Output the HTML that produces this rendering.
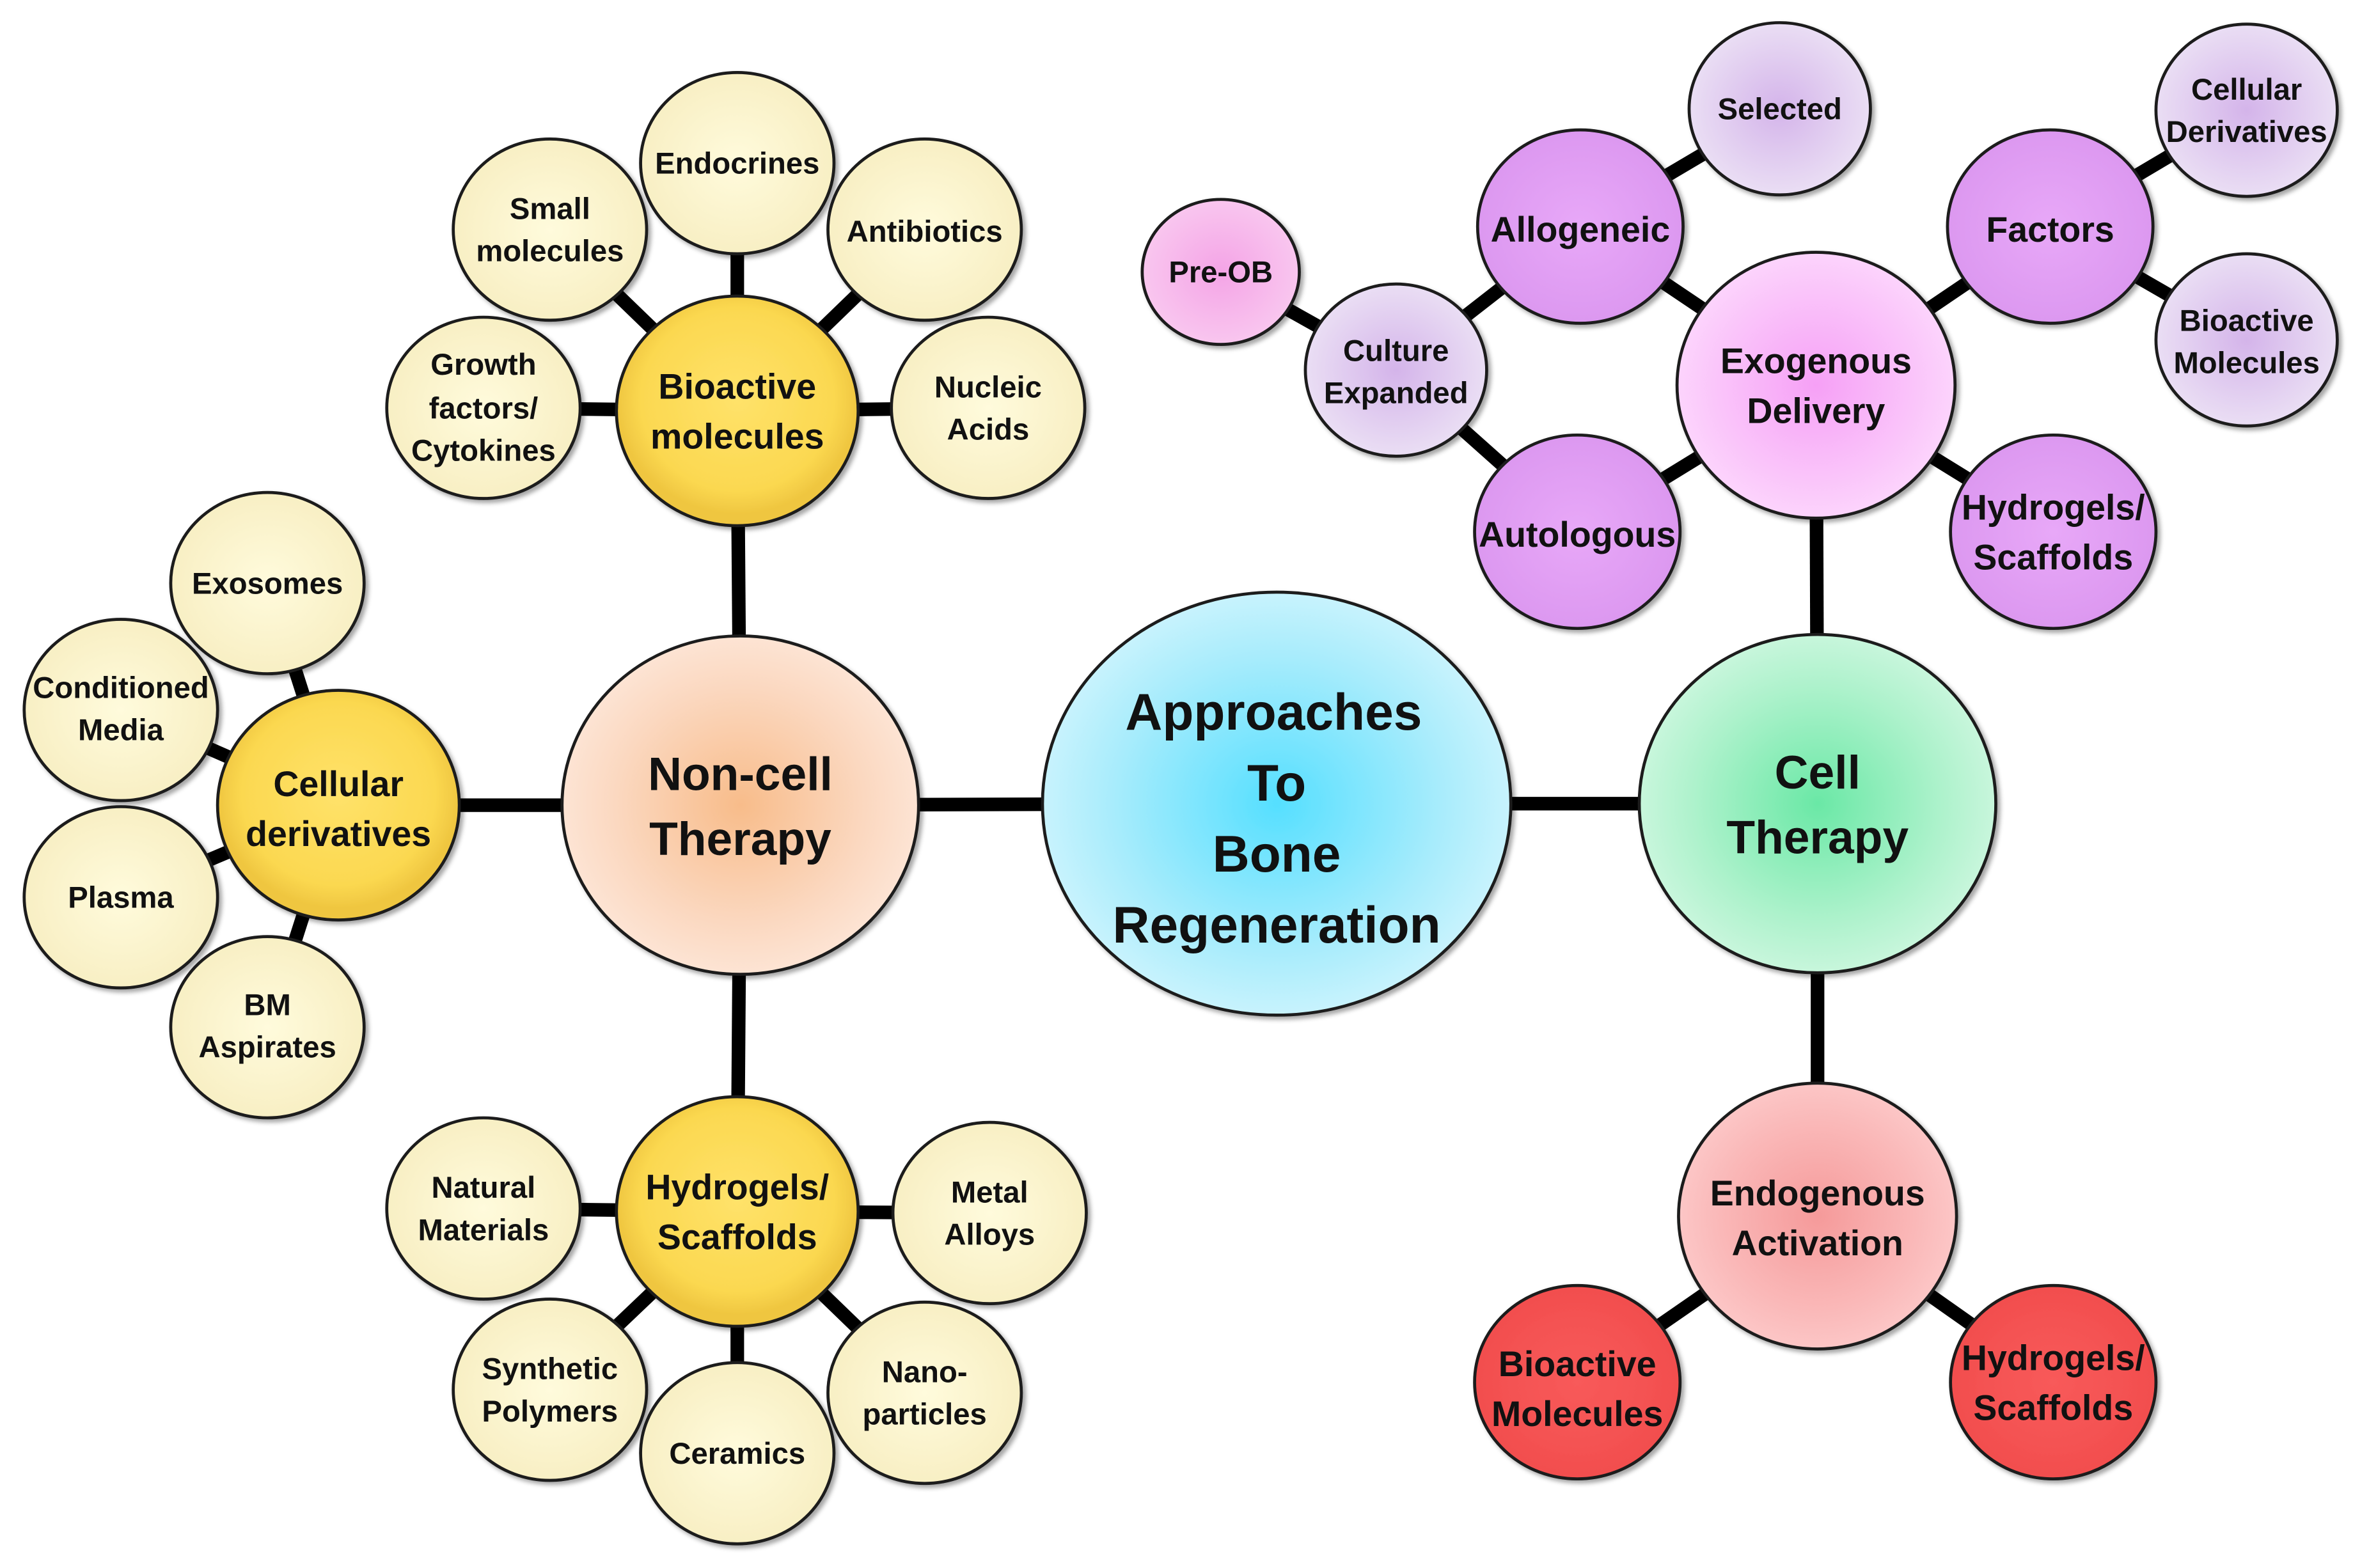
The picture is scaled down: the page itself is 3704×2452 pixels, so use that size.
<!DOCTYPE html>
<html><head><meta charset="utf-8"><style>
html,body{margin:0;padding:0;background:#fff;}
svg{display:block;}
text{font-family:"Liberation Sans",sans-serif;font-weight:bold;fill:#111;text-anchor:middle;}
</style></head><body>
<svg width="3704" height="2452" viewBox="0 0 1568 1038" preserveAspectRatio="none" xmlns="http://www.w3.org/2000/svg">
<defs>
<filter id="sh" x="-20%" y="-20%" width="140%" height="140%"><feDropShadow dx="2" dy="2" stdDeviation="1.5" flood-color="#000" flood-opacity="0.35"/></filter>
<radialGradient id="blue"><stop offset="0" stop-color="#55dfff"/><stop offset="0.7" stop-color="#a8ecfc"/><stop offset="1" stop-color="#c8f3fd"/></radialGradient>
<radialGradient id="peach"><stop offset="0" stop-color="#f8bc8a"/><stop offset="0.7" stop-color="#fbd8c0"/><stop offset="1" stop-color="#fde4d4"/></radialGradient>
<radialGradient id="green"><stop offset="0" stop-color="#6ae8a6"/><stop offset="0.7" stop-color="#aef2cc"/><stop offset="1" stop-color="#c8f6dc"/></radialGradient>
<radialGradient id="gold" cx="0.5" cy="0.45"><stop offset="0" stop-color="#ffe26a"/><stop offset="0.8" stop-color="#fbd850"/><stop offset="1" stop-color="#efc640"/></radialGradient>
<radialGradient id="cream"><stop offset="0" stop-color="#fffbdc"/><stop offset="1" stop-color="#f8efc4"/></radialGradient>
<radialGradient id="lpink"><stop offset="0" stop-color="#f6a0f6"/><stop offset="0.7" stop-color="#fac4fa"/><stop offset="1" stop-color="#fcd4fc"/></radialGradient>
<radialGradient id="purple"><stop offset="0" stop-color="#e8a8f8"/><stop offset="1" stop-color="#dc98f0"/></radialGradient>
<radialGradient id="lav"><stop offset="0" stop-color="#d4b4ea"/><stop offset="1" stop-color="#eadef4"/></radialGradient>
<radialGradient id="prepink"><stop offset="0" stop-color="#f4a4e6"/><stop offset="1" stop-color="#f9c6ef"/></radialGradient>
<radialGradient id="lred"><stop offset="0" stop-color="#f59a9a"/><stop offset="0.7" stop-color="#fab8b8"/><stop offset="1" stop-color="#fcc6c6"/></radialGradient>
<radialGradient id="red"><stop offset="0" stop-color="#f85a5a"/><stop offset="1" stop-color="#f24e4e"/></radialGradient>
</defs>
<g stroke="#000" stroke-width="9" fill="none">
<line x1="490" y1="533" x2="845" y2="532"/>
<line x1="845" y1="532" x2="1203" y2="532"/>
<line x1="490" y1="533" x2="488" y2="272"/>
<line x1="490" y1="533" x2="488" y2="802"/>
<line x1="490" y1="533" x2="224" y2="533"/>
<line x1="488" y1="272" x2="488" y2="108"/>
<line x1="488" y1="272" x2="364" y2="152"/>
<line x1="488" y1="272" x2="612" y2="152"/>
<line x1="488" y1="272" x2="320" y2="270"/>
<line x1="488" y1="272" x2="654" y2="270"/>
<line x1="224" y1="533" x2="177" y2="386"/>
<line x1="224" y1="533" x2="80" y2="470"/>
<line x1="224" y1="533" x2="80" y2="594"/>
<line x1="224" y1="533" x2="177" y2="680"/>
<line x1="488" y1="802" x2="320" y2="800"/>
<line x1="488" y1="802" x2="655" y2="803"/>
<line x1="488" y1="802" x2="364" y2="920"/>
<line x1="488" y1="802" x2="488" y2="962"/>
<line x1="488" y1="802" x2="612" y2="922"/>
<line x1="1203" y1="532" x2="1202" y2="255"/>
<line x1="1203" y1="532" x2="1203" y2="805"/>
<line x1="1202" y1="255" x2="1046" y2="150"/>
<line x1="1202" y1="255" x2="1044" y2="352"/>
<line x1="1202" y1="255" x2="1357" y2="150"/>
<line x1="1202" y1="255" x2="1359" y2="352"/>
<line x1="1046" y1="150" x2="924" y2="245"/>
<line x1="1044" y1="352" x2="924" y2="245"/>
<line x1="924" y1="245" x2="808" y2="180"/>
<line x1="1046" y1="150" x2="1178" y2="72"/>
<line x1="1357" y1="150" x2="1487" y2="73"/>
<line x1="1357" y1="150" x2="1487" y2="225"/>
<line x1="1203" y1="805" x2="1044" y2="915"/>
<line x1="1203" y1="805" x2="1359" y2="915"/>
</g>
<g stroke="#1a1a1a" stroke-width="2" filter="url(#sh)">
<ellipse cx="845" cy="532" rx="155" ry="140" fill="url(#blue)"/>
<ellipse cx="490" cy="533" rx="118" ry="112" fill="url(#peach)"/>
<ellipse cx="1203" cy="532" rx="118" ry="112" fill="url(#green)"/>
<ellipse cx="488" cy="272" rx="80" ry="76" fill="url(#gold)"/>
<ellipse cx="488" cy="802" rx="80" ry="76" fill="url(#gold)"/>
<ellipse cx="224" cy="533" rx="80" ry="76" fill="url(#gold)"/>
<ellipse cx="488" cy="108" rx="64" ry="60" fill="url(#cream)"/>
<ellipse cx="364" cy="152" rx="64" ry="60" fill="url(#cream)"/>
<ellipse cx="612" cy="152" rx="64" ry="60" fill="url(#cream)"/>
<ellipse cx="320" cy="270" rx="64" ry="60" fill="url(#cream)"/>
<ellipse cx="654" cy="270" rx="64" ry="60" fill="url(#cream)"/>
<ellipse cx="177" cy="386" rx="64" ry="60" fill="url(#cream)"/>
<ellipse cx="80" cy="470" rx="64" ry="60" fill="url(#cream)"/>
<ellipse cx="80" cy="594" rx="64" ry="60" fill="url(#cream)"/>
<ellipse cx="177" cy="680" rx="64" ry="60" fill="url(#cream)"/>
<ellipse cx="320" cy="800" rx="64" ry="60" fill="url(#cream)"/>
<ellipse cx="655" cy="803" rx="64" ry="60" fill="url(#cream)"/>
<ellipse cx="364" cy="920" rx="64" ry="60" fill="url(#cream)"/>
<ellipse cx="612" cy="922" rx="64" ry="60" fill="url(#cream)"/>
<ellipse cx="488" cy="962" rx="64" ry="60" fill="url(#cream)"/>
<ellipse cx="1202" cy="255" rx="92" ry="88" fill="url(#lpink)"/>
<ellipse cx="1046" cy="150" rx="68" ry="64" fill="url(#purple)"/>
<ellipse cx="1044" cy="352" rx="68" ry="64" fill="url(#purple)"/>
<ellipse cx="1357" cy="150" rx="68" ry="64" fill="url(#purple)"/>
<ellipse cx="1359" cy="352" rx="68" ry="64" fill="url(#purple)"/>
<ellipse cx="924" cy="245" rx="60" ry="57" fill="url(#lav)"/>
<ellipse cx="1178" cy="72" rx="60" ry="57" fill="url(#lav)"/>
<ellipse cx="1487" cy="73" rx="60" ry="57" fill="url(#lav)"/>
<ellipse cx="1487" cy="225" rx="60" ry="57" fill="url(#lav)"/>
<ellipse cx="808" cy="180" rx="52" ry="48" fill="url(#prepink)"/>
<ellipse cx="1203" cy="805" rx="92" ry="88" fill="url(#lred)"/>
<ellipse cx="1044" cy="915" rx="68" ry="64" fill="url(#red)"/>
<ellipse cx="1359" cy="915" rx="68" ry="64" fill="url(#red)"/>
</g>
<g font-size="34">
<text x="843" y="483">Approaches</text>
<text x="845" y="530">To</text>
<text x="845" y="577">Bone</text>
<text x="845" y="624">Regeneration</text>
</g>
<g font-size="31">
<text x="490" y="523">Non-cell</text>
<text x="490" y="566">Therapy</text>
<text x="1203" y="522">Cell</text>
<text x="1203" y="565">Therapy</text>
</g>
<g font-size="23.5">
<text x="488" y="264">Bioactive</text><text x="488" y="297">molecules</text>
<text x="488" y="794">Hydrogels/</text><text x="488" y="827">Scaffolds</text>
<text x="224" y="527">Cellular</text><text x="224" y="560">derivatives</text>
<text x="1202" y="247">Exogenous</text><text x="1202" y="280">Delivery</text>
<text x="1203" y="798">Endogenous</text><text x="1203" y="831">Activation</text>
<text x="1046" y="160">Allogeneic</text>
<text x="1044" y="362">Autologous</text>
<text x="1357" y="160">Factors</text>
<text x="1359" y="344">Hydrogels/</text><text x="1359" y="377">Scaffolds</text>
<text x="1044" y="911">Bioactive</text><text x="1044" y="944">Molecules</text>
<text x="1359" y="907">Hydrogels/</text><text x="1359" y="940">Scaffolds</text>
</g>
<g font-size="20">
<text x="488" y="115">Endocrines</text>
<text x="364" y="145">Small</text><text x="364" y="173">molecules</text>
<text x="612" y="160">Antibiotics</text>
<text x="320" y="248">Growth</text><text x="320" y="277">factors/</text><text x="320" y="305">Cytokines</text>
<text x="654" y="263">Nucleic</text><text x="654" y="291">Acids</text>
<text x="177" y="393">Exosomes</text>
<text x="80" y="462">Conditioned</text><text x="80" y="490">Media</text>
<text x="80" y="601">Plasma</text>
<text x="177" y="672">BM</text><text x="177" y="700">Aspirates</text>
<text x="320" y="793">Natural</text><text x="320" y="821">Materials</text>
<text x="655" y="796">Metal</text><text x="655" y="824">Alloys</text>
<text x="364" y="913">Synthetic</text><text x="364" y="941">Polymers</text>
<text x="488" y="969">Ceramics</text>
<text x="612" y="915">Nano-</text><text x="612" y="943">particles</text>
<text x="924" y="239">Culture</text><text x="924" y="267">Expanded</text>
<text x="808" y="187">Pre-OB</text>
<text x="1178" y="79">Selected</text>
<text x="1487" y="66">Cellular</text><text x="1487" y="94">Derivatives</text>
<text x="1487" y="219">Bioactive</text><text x="1487" y="247">Molecules</text>
</g>
</svg>
</body></html>
